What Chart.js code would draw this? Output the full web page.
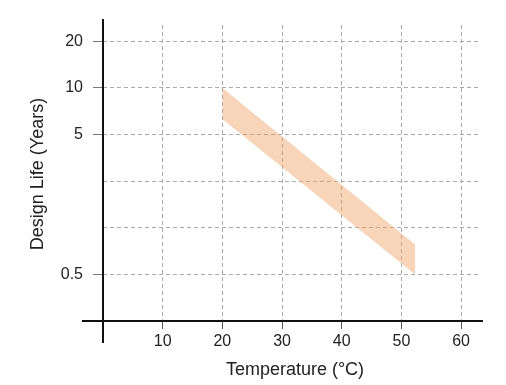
<!DOCTYPE html>
<html>
<head>
<meta charset="utf-8">
<script src="https://cdn.jsdelivr.net/npm/chart.js@4"></script>
<style>
html,body{margin:0;padding:0;background:#fff;}
#wrap{width:506px;height:385px;}
</style>
</head>
<body>
<div id="wrap"><canvas id="c" width="506" height="385"></canvas></div>
<script>
// ---- data ----
const xTicks = [10, 20, 30, 40, 50, 60];
const yTickValues = [0.5, 1, 2, 5, 10, 20];          // gridline values (years)
const yTickLabels = ['0.5', '', '', '5', '10', '20']; // shown labels
const bandTemps = [20, 52.3];                          // °C
const bandUpper = [10, 0.78];                          // years
const bandLower = [6.3, 0.5];                          // years
const xTitle = 'Temperature (°C)';
const yTitle = 'Design Life (Years)';

// schematic 1-2-5 axis: each gridline value sits one level apart
function toLevel(v) {
  for (let i = 0; i < yTickValues.length - 1; i++) {
    const a = yTickValues[i], b = yTickValues[i + 1];
    if (v <= b || i === yTickValues.length - 2) {
      return i + 1 + Math.log(v / a) / Math.log(b / a);
    }
  }
}

const font = "'Liberation Sans', Arial, sans-serif";

const axesPlugin = {
  id: 'axesPlugin',
  afterDraw(chart) {
    const ctx = chart.ctx;
    const xs = chart.scales.x, ys = chart.scales.y;
    const x0 = xs.getPixelForValue(0), y0 = ys.getPixelForValue(0);
    ctx.save();
    ctx.strokeStyle = '#111';
    ctx.lineWidth = 2;
    ctx.beginPath();
    ctx.moveTo(x0 - 21, y0); ctx.lineTo(chart.chartArea.right + 4, y0);
    ctx.moveTo(x0, chart.chartArea.top - 6); ctx.lineTo(x0, y0 + 22);
    ctx.stroke();
    ctx.fillStyle = '#222';
    ctx.font = '18px ' + font;
    ctx.textAlign = 'center';
    ctx.textBaseline = 'middle';
    ctx.fillText(xTitle, 295, 370);
    ctx.translate(38, 174);
    ctx.rotate(-Math.PI / 2);
    ctx.fillText(yTitle, 0, 0);
    ctx.restore();
  }
};

new Chart(document.getElementById('c'), {
  type: 'line',
  data: {
    datasets: [
      {
        data: bandTemps.map((t, i) => ({ x: t, y: toLevel(bandLower[i]) })),
        borderWidth: 0, pointRadius: 0, fill: false, tension: 0
      },
      {
        data: bandTemps.map((t, i) => ({ x: t, y: toLevel(bandUpper[i]) })),
        borderWidth: 0, pointRadius: 0, fill: '-1', tension: 0,
        backgroundColor: 'rgba(240,160,100,0.45)'
      }
    ]
  },
  options: {
    responsive: false,
    animation: false,
    events: [],
    layout: { padding: { left: 0, right: 27, top: 25, bottom: 0 } },
    plugins: { legend: { display: false }, tooltip: { enabled: false } },
    scales: {
      x: {
        type: 'linear', min: 0, max: 63,
        afterFit: s => { s.height = 64; },
        afterBuildTicks: s => { s.ticks = xTicks.map(v => ({ value: v })); },
        border: { display: false, dash: [4, 3] },
        grid: { color: '#aaaaaa', lineWidth: 1,
                tickLength: 8, tickColor: '#555', tickBorderDash: [] },
        ticks: { color: '#222', font: { family: font, size: 16 }, padding: 3,
                 maxRotation: 0, autoSkip: false }
      },
      y: {
        type: 'linear', min: 0, max: 6.35,
        afterFit: s => { s.width = 103; },
        afterBuildTicks: s => { s.ticks = yTickValues.map((v, i) => ({ value: i + 1 })); },
        border: { display: false, dash: [4, 3] },
        grid: { color: '#aaaaaa', lineWidth: 1,
                tickLength: 10, tickBorderDash: [],
                tickColor: c => yTickLabels[c.index] ? '#777' : 'rgba(0,0,0,0)' },
        ticks: { color: '#222', font: { family: font, size: 16 }, padding: 10,
                 autoSkip: false,
                 callback: (v) => yTickLabels[Math.round(v) - 1] }
      }
    }
  },
  plugins: [axesPlugin]
});
</script>
</body>
</html>
